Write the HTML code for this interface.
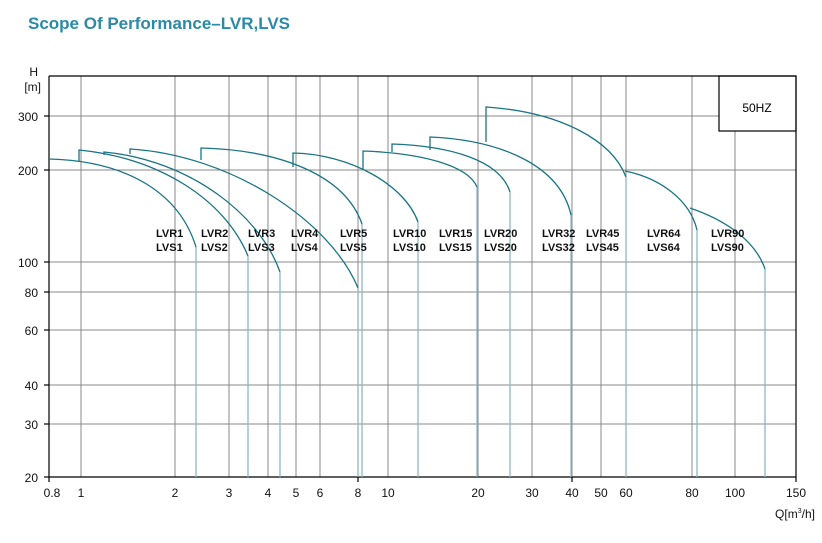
<!DOCTYPE html><html><head><style>body{margin:0;background:#fff}svg{display:block}</style></head><body>
<svg width="822" height="543" xmlns="http://www.w3.org/2000/svg" font-family="Liberation Sans, Arial, sans-serif">
<text x="28" y="29" font-size="17" font-weight="bold" fill="#2a8aa8">Scope Of Performance–LVR,LVS</text>
<g stroke="#888" stroke-width="1">
<line x1="81" y1="76" x2="81" y2="477"/><line x1="175" y1="76" x2="175" y2="477"/><line x1="229" y1="76" x2="229" y2="477"/><line x1="268" y1="76" x2="268" y2="477"/><line x1="296" y1="76" x2="296" y2="477"/><line x1="320" y1="76" x2="320" y2="477"/><line x1="358" y1="76" x2="358" y2="477"/><line x1="388" y1="76" x2="388" y2="477"/><line x1="478" y1="76" x2="478" y2="477"/><line x1="532" y1="76" x2="532" y2="477"/><line x1="572" y1="76" x2="572" y2="477"/><line x1="601" y1="76" x2="601" y2="477"/><line x1="626" y1="76" x2="626" y2="477"/><line x1="692" y1="76" x2="692" y2="477"/><line x1="735" y1="131" x2="735" y2="477"/>
<line x1="49" y1="116" x2="719" y2="116"/><line x1="49" y1="170" x2="796" y2="170"/><line x1="49" y1="262" x2="796" y2="262"/><line x1="49" y1="292" x2="796" y2="292"/><line x1="49" y1="330" x2="796" y2="330"/><line x1="49" y1="385" x2="796" y2="385"/><line x1="49" y1="424" x2="796" y2="424"/>
</g>
<g stroke="#000" stroke-width="1.2" fill="none">
<line x1="49" y1="76" x2="796" y2="76"/><line x1="49" y1="76" x2="49" y2="477"/><line x1="49" y1="477" x2="796" y2="477"/><line x1="796" y1="76" x2="796" y2="477"/>
<rect x="719" y="76" width="77" height="55"/>
<line x1="44" y1="116" x2="49" y2="116"/><line x1="44" y1="170" x2="49" y2="170"/><line x1="44" y1="262" x2="49" y2="262"/><line x1="44" y1="292" x2="49" y2="292"/><line x1="44" y1="330" x2="49" y2="330"/><line x1="44" y1="385" x2="49" y2="385"/><line x1="44" y1="424" x2="49" y2="424"/><line x1="44" y1="477" x2="49" y2="477"/>
<line x1="49" y1="477" x2="49" y2="482"/><line x1="358" y1="477" x2="358" y2="482"/><line x1="572" y1="477" x2="572" y2="482"/><line x1="796" y1="477" x2="796" y2="482"/>
</g>
<text x="757" y="112" font-size="12" text-anchor="middle">50HZ</text>
<g font-size="12" text-anchor="end" fill="#111">
<text x="38" y="76">H</text><text x="41" y="91">[m]</text>
<text x="38" y="121">300</text><text x="38" y="175">200</text><text x="38" y="267">100</text><text x="38" y="297">80</text><text x="38" y="335">60</text><text x="38" y="390">40</text><text x="38" y="429">30</text><text x="38" y="482">20</text>
</g>
<g font-size="12" text-anchor="middle" fill="#111">
<text x="52" y="497">0.8</text><text x="81" y="497">1</text><text x="175" y="497">2</text><text x="229" y="497">3</text><text x="268" y="497">4</text><text x="296" y="497">5</text><text x="320" y="497">6</text><text x="358" y="497">8</text><text x="388" y="497">10</text><text x="478" y="497">20</text><text x="532" y="497">30</text><text x="572" y="497">40</text><text x="601" y="497">50</text><text x="626" y="497">60</text><text x="692" y="497">80</text><text x="735" y="497">100</text><text x="796" y="497">150</text>
<text x="795" y="518" text-anchor="middle">Q[m<tspan font-size="7" dy="-5">3</tspan><tspan dy="5">/h]</tspan></text>
</g>
<g stroke="#8ab8c0" stroke-width="1.3">
<line x1="196" y1="247" x2="196" y2="477"/><line x1="248" y1="256" x2="248" y2="477"/><line x1="280" y1="272" x2="280" y2="477"/><line x1="358" y1="288" x2="358" y2="477"/><line x1="362" y1="224" x2="362" y2="477"/><line x1="418" y1="222" x2="418" y2="477"/><line x1="477" y1="187" x2="477" y2="477"/><line x1="510" y1="192" x2="510" y2="477"/><line x1="571" y1="215" x2="571" y2="477"/><line x1="626" y1="177" x2="626" y2="477"/><line x1="697" y1="230" x2="697" y2="477"/><line x1="765" y1="269" x2="765" y2="477"/>
</g>
<g stroke="#1a7585" stroke-width="1.3" fill="none">
<path d="M49,159 C130,161 180,195 196,247"/>
<path d="M79,162 V150 C160,158 225,200 248,256"/>
<path d="M104,155 V152 C190,160 260,215 280,272"/>
<path d="M130,154 V149 C230,155 330,220 358,288"/>
<path d="M201,160 V148 C280,150 345,175 362,224"/>
<path d="M293,167 V153 C350,154 405,185 418,222"/>
<path d="M363,169 V151 C420,153 468,165 477,187"/>
<path d="M392,152 V144 C450,146 500,160 510,192"/>
<path d="M430,150 V137 C500,140 560,165 571,215"/>
<path d="M486,142 V107 C560,112 612,140 626,177"/>
<path d="M625,171 C660,178 690,200 697,230"/>
<path d="M690,208 C725,220 755,240 765,269"/>
</g>
<g font-size="11" font-weight="bold" fill="#111">
<text x="156" y="237">LVR1</text><text x="156" y="251">LVS1</text>
<text x="201" y="237">LVR2</text><text x="201" y="251">LVS2</text>
<text x="248" y="237">LVR3</text><text x="248" y="251">LVS3</text>
<text x="291" y="237">LVR4</text><text x="291" y="251">LVS4</text>
<text x="340" y="237">LVR5</text><text x="340" y="251">LVS5</text>
<text x="393" y="237">LVR10</text><text x="393" y="251">LVS10</text>
<text x="439" y="237">LVR15</text><text x="439" y="251">LVS15</text>
<text x="484" y="237">LVR20</text><text x="484" y="251">LVS20</text>
<text x="542" y="237">LVR32</text><text x="542" y="251">LVS32</text>
<text x="586" y="237">LVR45</text><text x="586" y="251">LVS45</text>
<text x="647" y="237">LVR64</text><text x="647" y="251">LVS64</text>
<text x="711" y="237">LVR90</text><text x="711" y="251">LVS90</text>
</g>
</svg></body></html>
